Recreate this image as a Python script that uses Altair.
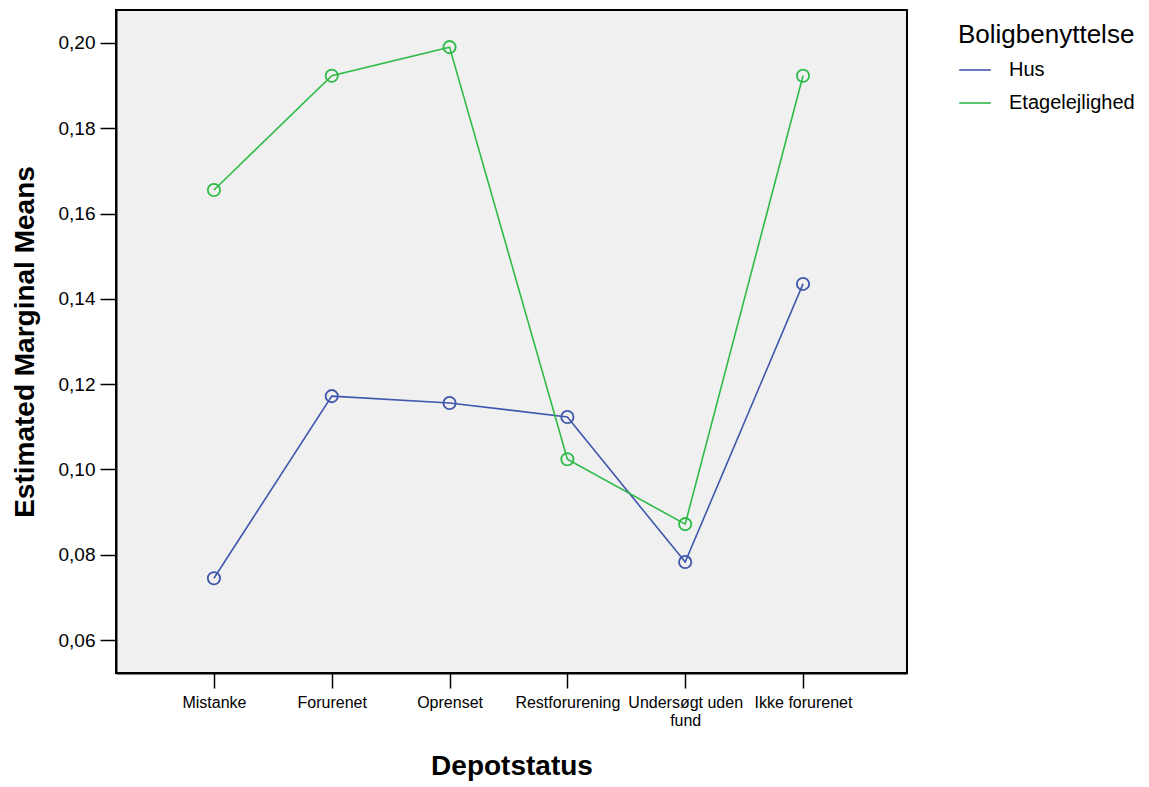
import altair as alt
import pandas as pd

categories = ["Mistanke", "Forurenet", "Oprenset", "Restforurening", "Undersøgt uden fund", "Ikke forurenet"]
groups = ["Hus", "Etagelejlighed"]
hus = [0.0745, 0.1172, 0.1156, 0.1123, 0.0783, 0.1435]
etage = [0.1655, 0.1923, 0.1990, 0.1024, 0.0872, 0.1923]
y_ticks = [0.06, 0.08, 0.10, 0.12, 0.14, 0.16, 0.18, 0.20]
colors = ["#3F57AC", "#2EBB47"]

rows = []
for g, vals in zip(groups, [hus, etage]):
    for i, (c, v) in enumerate(zip(categories, vals)):
        rows.append({"Depotstatus": c, "Boligbenyttelse": g, "value": v, "order": i})
df = pd.DataFrame(rows)

FONT = "Liberation Sans"

chart = alt.Chart(df).mark_line(
    strokeWidth=1.6,
    point=alt.OverlayMarkDef(filled=False, size=150, strokeWidth=1.8),
).encode(
    x=alt.X("Depotstatus:N", sort=categories,
            scale=alt.Scale(padding=0.857, align=0.485),
            axis=alt.Axis(title="Depotstatus", labelAngle=0, labelFontSize=16,
                          labelFont=FONT, labelColor="black", labelPadding=6,
                          tickSize=15, tickColor="black", tickWidth=1.5,
                          domainColor="black", domainWidth=2,
                          titleFontSize=28, titleFont=FONT, titleFontWeight="bold",
                          titleColor="black", titlePadding=24,
                          labelExpr="datum.label == 'Undersøgt uden fund' ? ['Undersøgt uden', 'fund'] : datum.label")),
    y=alt.Y("value:Q",
            scale=alt.Scale(domain=[0.0523, 0.2077], nice=False, zero=False),
            axis=alt.Axis(title="Estimated Marginal Means", values=y_ticks,
                          labelExpr="replace(format(datum.value, '.2f'), '.', ',')",
                          labelFontSize=19, labelFont=FONT, labelColor="black", labelPadding=5,
                          tickSize=16, tickColor="black", tickWidth=1.5,
                          domainColor="black", domainWidth=2, grid=False,
                          titleFontSize=28, titleFont=FONT, titleFontWeight="bold",
                          titleColor="black", titlePadding=19)),
    color=alt.Color("Boligbenyttelse:N", sort=groups,
                    scale=alt.Scale(domain=groups, range=colors),
                    legend=alt.Legend(title="Boligbenyttelse", orient="none",
                                      legendX=842, legendY=12,
                                      symbolType="stroke", symbolSize=1000, symbolStrokeWidth=1.6,
                                      titleFontSize=26, titleFont=FONT, titleFontWeight="normal",
                                      titleColor="black",
                                      labelFontSize=20, labelFont=FONT, labelColor="black",
                                      labelOffset=17, rowPadding=6)),
    order="order:Q",
).properties(
    width=791, height=663,
    autosize=alt.AutoSizeParams(type="none"),
    padding={"left": 108, "top": 2, "right": 230, "bottom": 112},
).configure_view(
    fill="#f0f0f0", stroke="black", strokeWidth=2
)

chart.save("out.html", embed_options={"renderer": "svg", "actions": False})
